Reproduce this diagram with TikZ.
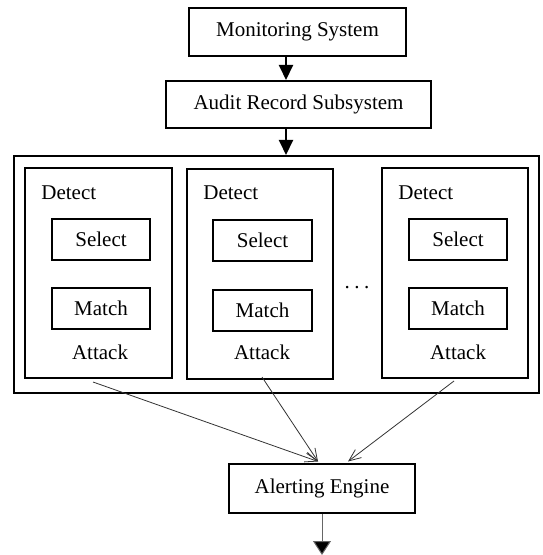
\documentclass[tikz,border=0pt]{standalone}
\usepackage{fontspec}
\setmainfont{Liberation Serif}
\usetikzlibrary{arrows.meta,calc}
\begin{document}
\begin{tikzpicture}[x=0.5pt,y=-0.5pt,
  font=\fontsize{10.5}{12.6}\selectfont,
  box/.style={draw, line width=1pt, inner sep=0pt, rectangle},
  lbl/.style={inner sep=0pt},
  bigarrow/.style={line width=1pt, -{Triangle[width=7pt,length=7.5pt]}},
  thinarrow/.style={line width=0.4pt, draw=black!80, -{Straight Barb[length=6pt,width=5pt]}},
  outarrow/.style={line width=0.5pt, draw=black!60, -{Triangle[width=9pt,length=7pt,fill=black]}}
]
\useasboundingbox (0,0) rectangle (542,555);
% top boxes
\node[box, minimum width=108.5pt, minimum height=24pt] (mon) at (297.5,32) {Monitoring System};
\node[box, minimum width=132.5pt, minimum height=23.5pt] (aud) at (298.5,104.5) {Audit Record Subsystem};
% outer box
\node[box, minimum width=262.5pt, minimum height=118.5pt] (outer) at (276.5,274.5) {};
% detect boxes
\node[box, minimum width=73.5pt, minimum height=105pt] (d1) at (98.5,273) {};
\node[box, minimum width=73pt, minimum height=105pt] (d2) at (260,274) {};
\node[box, minimum width=73pt, minimum height=105pt] (d3) at (455,273) {};
% detect labels
\node[lbl, anchor=west] (dt1) at (41,193) {Detect};
\node[lbl, anchor=west] (dt2) at (203,193) {Detect};
\node[lbl, anchor=west] (dt3) at (398,193) {Detect};
% select / match
\node[box, minimum width=49pt, minimum height=20.5pt] (s1) at (101,239.5) {Select};
\node[box, minimum width=49pt, minimum height=20.5pt] (m1) at (101,308.5) {Match};
\node[box, minimum width=49.5pt, minimum height=20.5pt] (s2) at (262.5,240.5) {Select};
\node[box, minimum width=49.5pt, minimum height=20.5pt] (m2) at (262.5,310.5) {Match};
\node[box, minimum width=49pt, minimum height=20.5pt] (s3) at (458,239.5) {Select};
\node[box, minimum width=49pt, minimum height=20.5pt] (m3) at (458,308.5) {Match};
% attack labels
\node[lbl] (a1) at (100,352) {Attack};
\node[lbl] (a2) at (262,352) {Attack};
\node[lbl] (a3) at (458,352) {Attack};
% dots
\node[lbl] (dots) at (357,288) {.\hspace{2.2pt}.\hspace{2.2pt}.};
% alerting engine
\node[box, minimum width=93pt, minimum height=24.5pt] (al) at (322,488.5) {Alerting Engine};
% arrows top
\coordinate (ax) at (286,0);
\draw[bigarrow] (mon.south -| ax) -- (aud.north -| ax);
\draw[bigarrow] (aud.south -| ax) -- (outer.north -| ax);
% connectors to alerting engine
\coordinate (c1) at (93,382);
\coordinate (c2) at (262,377);
\coordinate (c3) at (454,381);
\coordinate (e1) at ($(al.north)+(-4,-1.5)$);
\coordinate (e3) at ($(al.north)+(26,-1.5)$);
\draw[thinarrow] (c1) -- (e1);
\draw[thinarrow] (c2) -- (e1);
\draw[thinarrow] (c3) -- (e3);
% output arrow
\coordinate (bot) at (322,555);
\draw[outarrow] (al.south) -- (bot);
\end{tikzpicture}
\end{document}
